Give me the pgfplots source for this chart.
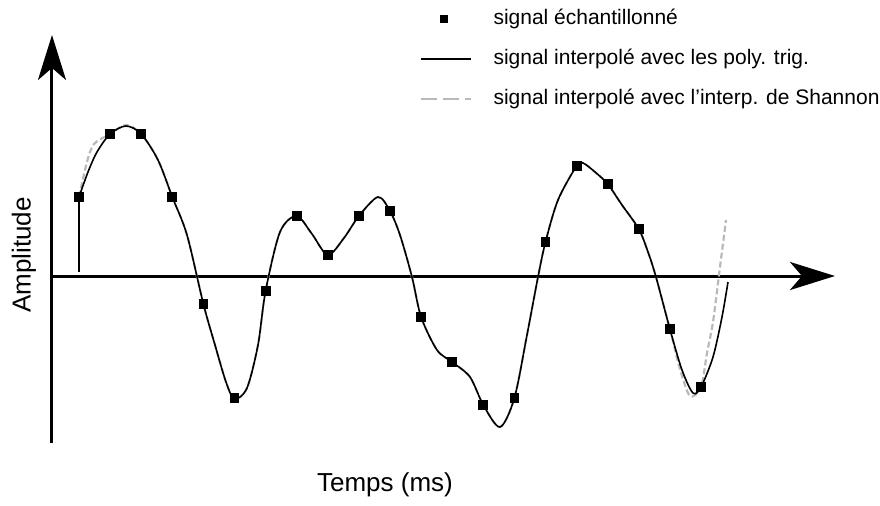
\documentclass[border=0pt]{standalone}
\usepackage{fontspec}
\setmainfont{Liberation Sans}
\usepackage{pgfplots}
\pgfplotsset{compat=1.18}
\usetikzlibrary{arrows.meta}

\begin{document}
\begin{tikzpicture}
\path[use as bounding box] (0,0) rectangle (440pt,252.5pt);
\begin{axis}[
  at={(26pt,31pt)}, anchor=south west,
  x=0.5pt, y=0.5pt,
  xmin=0, xmax=783, ymin=-167, ymax=241,
  enlargelimits=false,
  axis lines=middle,
  axis line style={line width=1.5pt, -{Stealth[length=22.5pt,width=14pt,inset=6pt]}},
  xtick=\empty, ytick=\empty,
  clip=false,
  legend style={draw=none, fill=none, at={(0.470,1.064)}, anchor=north west,
    inner sep=0pt, outer sep=0pt, font=\fontsize{10.5}{12}\selectfont,
    row sep=9.5pt, column sep=0pt,
    nodes={inner sep=0pt, text height=8pt, text depth=2.5pt}},
  legend cell align=left,
]
% Shannon interpolation (grey, dashed)
\addplot[draw=gray!55, line width=1.1pt, dash pattern=on 3pt off 1.5pt, smooth, forget plot] coordinates {
(27,79) (35,114) (42,132) (58.1,142) (74,151) (89.2,142) (106,116) (120.3,79)
(135,41) (151.4,-28) (163,-69) (174,-106) (182.5,-123) (195,-112) (206,-69)
(213.6,-15) (228,44) (244.7,60) (260,42) (275.8,21) (292,38) (306.9,60) (326,79)
(338,65) (348,41) (360,-1) (369.1,-41) (385,-74) (400.2,-86) (418,-101)
(431.3,-129) (448,-151) (462.4,-122) (475,-59) (486,-1) (493.5,34) (506,76)
(524.6,110) (531,113) (543,104) (555.7,92) (570,71) (586.8,47) (596,24) (604,-1)
(617.9,-53) (628,-93) (638,-120) (649,-111) (655,-77) (661,-46) (667,1) (674,56)
};
% trigonometric polynomial interpolation (black)
\addplot[black, line width=0.8pt, forget plot] coordinates {(27,4) (27,79)};
\addplot[black, line width=0.8pt, smooth, forget plot] coordinates {
(27,79) (36,104) (45,124) (58.1,142) (74,150) (89.2,142) (106,116) (120.3,79)
(135,41) (151.4,-28) (163,-69) (174,-106) (182.5,-123) (195,-112) (206,-69)
(213.6,-15) (228,44) (244.7,60) (260,42) (275.8,21) (292,38) (306.9,60) (326,79)
(338,65) (348,41) (360,-1) (369.1,-41) (385,-74) (400.2,-86) (418,-101)
(431.3,-129) (448,-151) (462.4,-122) (475,-59) (486,-1) (493.5,34) (506,76)
(524.6,110) (531,113) (543,104) (555.7,92) (570,71) (586.8,47) (596,24) (604,-1)
(617.9,-53) (630,-94) (641,-117) (649,-111) (661,-81) (670,-41) (676,-6)
};
% samples
\addplot[only marks, mark=square*, mark size=2.2pt, black, forget plot] coordinates {
(27,79) (58.1,142) (89.2,142) (120.3,79) (151.4,-28) (182.5,-122) (213.6,-15)
(244.7,60) (275.8,21) (306.9,60) (338,65) (369.1,-41) (400.2,-86) (431.3,-129)
(462.4,-122) (493.5,34) (524.6,110) (555.7,92) (586.8,47) (617.9,-53) (649,-111)
};
\addlegendimage{legend image code/.code={\draw[black, only marks, mark=square*, mark size=1.75pt] plot coordinates {(11.5pt,0pt)}; \path (0pt,0pt) (36pt,0pt);}}
\addlegendentry{signal échantillonné}
\addlegendimage{legend image code/.code={\draw[black, line width=1.1pt] (0pt,0pt) -- (25pt,0pt); \path (36pt,0pt);}}
\addlegendentry{signal interpolé avec les poly. trig.}
\addlegendimage{legend image code/.code={\draw[gray!55, line width=0.9pt, dash pattern=on 8pt off 3pt] (0pt,0pt) -- (25pt,0pt); \path (36pt,0pt);}}
\addlegendentry{signal interpolé avec l'interp. de Shannon}

\node[font=\fontsize{13}{15}\selectfont] at (axis cs:333,-209) {Temps (ms)};
\node[font=\fontsize{13}{15}\selectfont, rotate=90] at (axis cs:-28,21) {Amplitude};
\end{axis}
\end{tikzpicture}
\end{document}
